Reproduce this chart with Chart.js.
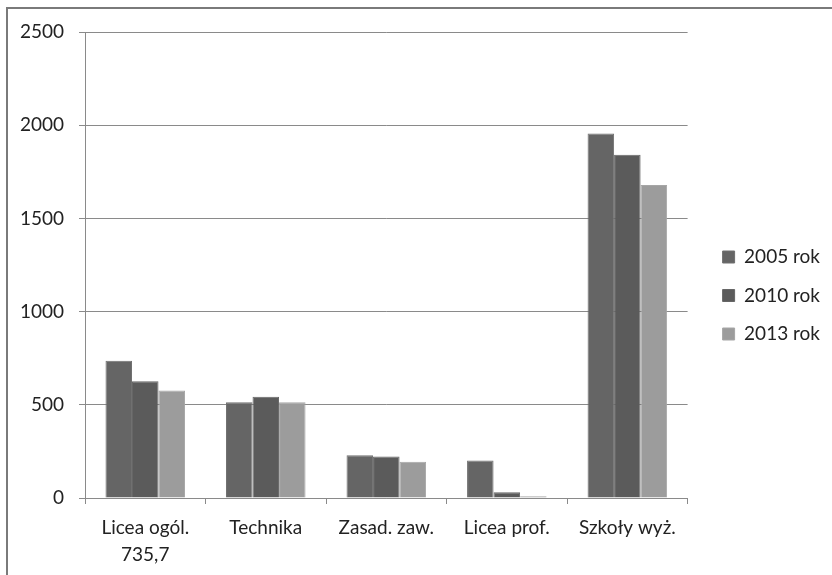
<!DOCTYPE html>
<html>
<head>
<meta charset="utf-8">
<script src="https://cdn.jsdelivr.net/npm/chart.js@4"></script>
<style>
  html, body { margin: 0; padding: 0; background: #fff; }
  #wrap { position: relative; width: 832px; height: 575px; overflow: hidden; }
  #frame { position: absolute; left: 6px; top: 7px; width: 900px; height: 700px; border-left: 2px solid #7a7a7a; border-top: 2px solid #7a7a7a; }
  canvas { position: absolute; left: 0; top: 0; }
</style>
</head>
<body>
<div id="wrap">
  <div id="frame"></div>
  <canvas id="c" width="832" height="575"></canvas>
</div>
<script>
const categories = [["Licea ogól.", "735,7"], "Technika", "Zasad. zaw.", "Licea prof.", "Szkoły wyż."];
const seriesNames = ["2005 rok", "2010 rok", "2013 rok"];
const values2005 = [735.7, 514, 229, 201, 1955];
const values2010 = [627, 543, 222, 31, 1842];
const values2013 = [577, 514, 194, 9, 1679];
const yTicks = [0, 500, 1000, 1500, 2000, 2500];

const colors = ["#656565", "#5b5b5b", "#9c9c9c"];
const borders = ["#707070", "#666666", "#a6a6a6"];
const font = "Lato, 'Liberation Sans', sans-serif";

const ctx = document.getElementById('c');
new Chart(ctx, {
  type: 'bar',
  data: {
    labels: categories,
    datasets: [values2005, values2010, values2013].map((v, i) => ({
      label: seriesNames[i],
      data: v,
      backgroundColor: colors[i],
      borderColor: borders[i],
      borderWidth: 1,
      categoryPercentage: 0.66,
      barPercentage: 1.0
    }))
  },
  options: {
    responsive: false,
    animation: false,
    devicePixelRatio: 1,
    layout: { padding: { top: 32, right: 2, left: 0, bottom: 0 } },
    plugins: {
      tooltip: { enabled: false },
      legend: {
        position: 'right',
        align: 'start',
        title: { display: true, text: ' ', font: { size: 10, lineHeight: 1.2 }, padding: { top: 92, bottom: 92 } },
        labels: {
          boxWidth: 12, boxHeight: 12,
          padding: 19.5,
          color: '#222',
          font: { family: font, size: 19 }
        }
      }
    },
    scales: {
      x: {
        offset: true,
        grid: { offset: true, drawOnChartArea: false, drawTicks: true, tickLength: 6, color: '#8a8a8a', tickColor: '#8a8a8a' },
        border: { color: '#8a8a8a', width: 1 },
        ticks: { color: '#222', font: { family: font, size: 19, lineHeight: 1.42 }, padding: 10, maxRotation: 0, autoSkip: false },
        afterFit: s => { s.height = 77; }
      },
      y: {
        min: 0, max: 2500,
        afterBuildTicks: s => { s.ticks = yTicks.map(v => ({ value: v })); },
        grid: { color: '#8a8a8a', tickLength: 6, tickColor: '#8a8a8a' },
        border: { color: '#8a8a8a', width: 1 },
        ticks: { color: '#222', font: { family: font, size: 19 }, padding: 15, callback: v => String(v) },
        afterFit: s => { s.width = 85; }
      },
      spacer: {
        type: 'linear', position: 'right', display: true,
        grid: { display: false, drawTicks: false }, border: { display: false },
        ticks: { display: false },
        afterFit: s => { s.width = 15.5; }
      }
    }
  }
});
</script>
</body>
</html>
